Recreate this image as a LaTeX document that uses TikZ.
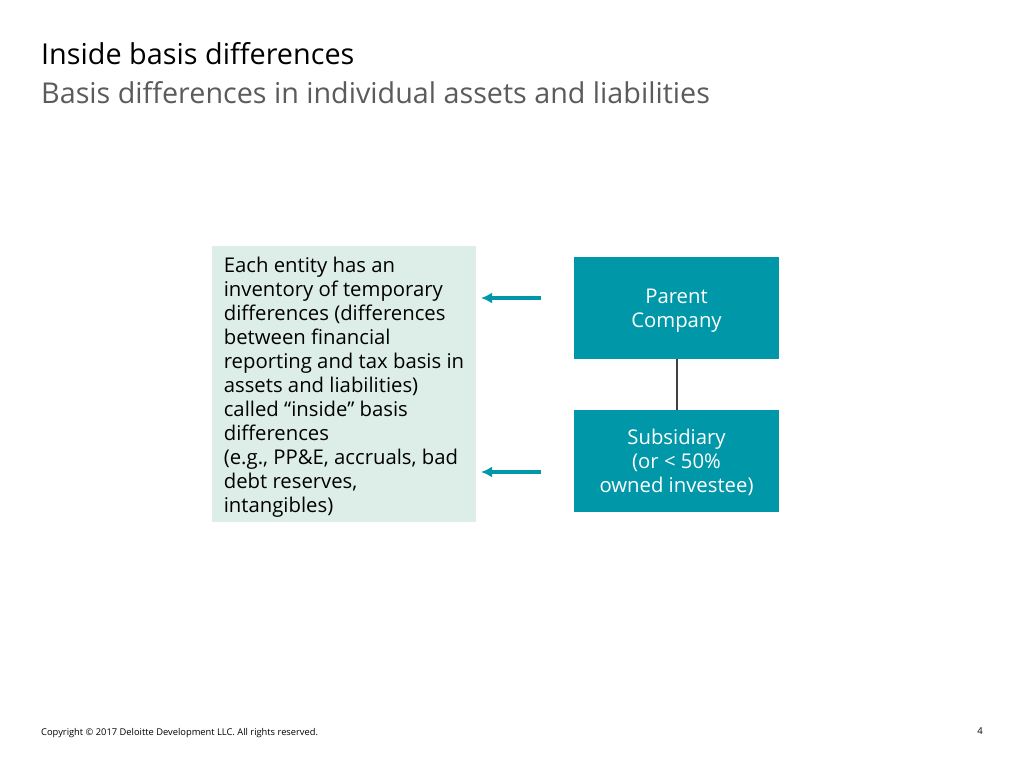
\documentclass[tikz,border=0pt]{standalone}
\usepackage{fontspec}
\setmainfont{Open Sans}
\usepackage{tikz}
\usetikzlibrary{positioning,arrows.meta}
\definecolor{teal}{HTML}{0097A9}
\definecolor{mint}{HTML}{DDEEE8}
\definecolor{subgray}{HTML}{5B5B5B}
\definecolor{linkgray}{HTML}{404040}
\tikzset{
	entity/.style={fill=teal,minimum width=205pt,minimum height=102pt,inner sep=0pt},
	entitytext/.style={text=white,inner sep=0pt,align=center,font=\fontsize{20.3}{24}\selectfont},
	pointer/.style={draw=teal,line width=3.2pt,-{Latex[length=11pt,width=11pt]}}
}

\begin{document}
\begin{tikzpicture}[x=1pt,y=-1pt]
				\useasboundingbox[fill=white] (0,0) rectangle (1024,768);
				
				%Titres
				\node[anchor=base west,inner sep=0pt,font=\fontsize{28.8}{34}\selectfont] (title) at (41,64) {Inside basis differences};
				\node[anchor=base west,inner sep=0pt,text=subgray,font=\fontsize{28.7}{34}\selectfont] (subtitle) at (41,103) {Basis differences in individual assets and liabilities};
				
				%Boites
				\fill[mint] (212,246) rectangle (476,522);
				\node[align=left,inner sep=0pt,font=\fontsize{20.3}{24}\selectfont] (inventory) at (344,387) {Each entity has an\\inventory of temporary\\differences (differences\\between financial\\reporting and tax basis in\\assets and liabilities)\\called “inside” basis\\differences\\(e.g., PP\&E, accruals, bad\\debt reserves,\\intangibles)};
				\coordinate (infoedge) at (476,384);
				\node[entity] (parent) at (676.5,308) {};
				\node[entity,below=51pt of parent] (sub) {};
				\node[entitytext] (parentlabel) at ([yshift=-3pt]parent.center) {Parent\\Company};
				\node[entitytext] (sublabel) at ([yshift=-1pt]sub.center) {Subsidiary\\(or < 50\%\\owned investee)};
				
				%Lien
				\draw[linkgray,line width=2pt] (parent) -- (sub);
				
				%Fleches
				\coordinate (fromparent) at (541,298);
				\coordinate (fromsub) at (541,472);
				\draw[pointer,shorten >=5pt] (fromparent) -- (infoedge |- fromparent);
				\draw[pointer,shorten >=5pt] (fromsub) -- (infoedge |- fromsub);
				
				%Pied de page
				\node[anchor=base west,inner sep=0pt,font=\fontsize{9.33}{11}\selectfont] (copyright) at (41,735) {Copyright © 2017 Deloitte Development LLC. All rights reserved.};
				\node[anchor=base east,inner sep=0pt,font=\fontsize{9.5}{11}\selectfont] (page) at (983,734) {4};
				
			\end{tikzpicture}
\end{document}
